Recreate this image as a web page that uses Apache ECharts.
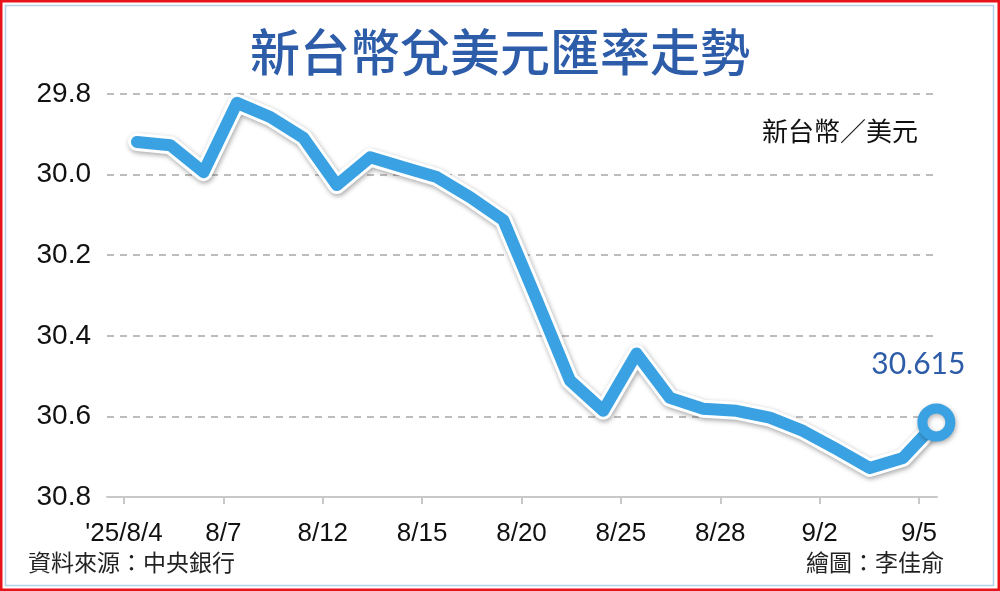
<!DOCTYPE html>
<html>
<head>
<meta charset="utf-8">
<script src="https://cdn.jsdelivr.net/npm/echarts@6/dist/echarts.min.js"></script>
<style>
html,body{margin:0;padding:0;background:#fff;}
#c{width:1000px;height:591px;}
</style>
</head>
<body>
<div id="c"></div>
<script>
// Trading days (index positions) and TWD per USD closing values
const dates = ['8/4','8/5','8/6','8/7','8/8','8/11','8/12','8/13','8/14','8/15',
  '8/18','8/19','8/20','8/21','8/22','8/25','8/26','8/27','8/28','8/29',
  '9/1','9/2','9/3','9/4','9/5'];
const rates = [29.919, 29.927, 29.994, 29.822, 29.857, 29.909, 30.026, 29.957, 29.982, 30.006,
  30.056, 30.113, 30.31, 30.511, 30.586, 30.444, 30.554, 30.581, 30.586, 30.603,
  30.636, 30.681, 30.728, 30.703, 30.615];
const tickLabels = ["'25/8/4", '8/7', '8/12', '8/15', '8/20', '8/25', '8/28', '9/2', '9/5'];
const yTicks = [29.8, 30.0, 30.2, 30.4, 30.6, 30.8];
const lastLabel = '30.615';

const pts = rates.map((v, i) => [i, v]);
const lastIdx = rates.length - 1;

const chart = echarts.init(document.getElementById('c'), null, {renderer: 'canvas'});
const latin = 'Liberation Sans, Arial, sans-serif';
const cjk = '"Noto Sans CJK TC", "Noto Sans CJK SC", sans-serif';

chart.setOption({
  animation: false,
  backgroundColor: '#ffffff',
  title: {
    text: '新台幣兌美元匯率走勢',
    left: 'center',
    top: 22,
    textStyle: {fontSize: 50, fontWeight: 500, color: '#2d5ca8', fontFamily: cjk}
  },
  grid: [
    {left: 107, right: 63, top: 94, bottom: 94},
    {left: 124, right: 81, top: 94, bottom: 94}
  ],
  xAxis: [
    {
      type: 'value', gridIndex: 0, min: -0.9, max: 24.02,
      axisLine: {show: true, onZero: false, lineStyle: {color: '#c8c8c8', width: 2}},
      axisTick: {show: false}, axisLabel: {show: false}, splitLine: {show: false}
    },
    {
      type: 'category', gridIndex: 1, boundaryGap: false, data: tickLabels,
      axisLine: {show: false},
      axisTick: {show: true, length: 7, lineStyle: {color: '#c8c8c8', width: 2}},
      axisLabel: {show: true, interval: 0, margin: 24, fontSize: 26, color: '#111', fontFamily: latin},
      splitLine: {show: false}
    }
  ],
  yAxis: [
    {
      type: 'value', gridIndex: 0, inverse: true, min: 29.8, max: 30.8, interval: 0.2,
      axisLine: {show: false}, axisTick: {show: false},
      axisLabel: {margin: 16, fontSize: 28, color: '#111', fontFamily: latin,
        formatter: v => v.toFixed(1)},
      splitLine: {show: true, lineStyle: {color: '#a8a8a8', width: 1.5, type: [7, 6]}}
    },
    {type: 'value', gridIndex: 1, show: false, min: 0, max: 1}
  ],
  series: [
    {
      type: 'line', xAxisIndex: 0, yAxisIndex: 0, data: pts, silent: true,
      symbol: 'none', z: 2,
      lineStyle: {color: '#ffffff', width: 18, cap: 'round', join: 'round',
        shadowColor: 'rgba(0,0,0,0.35)', shadowBlur: 5, shadowOffsetX: 1, shadowOffsetY: 2}
    },
    {
      type: 'line', xAxisIndex: 0, yAxisIndex: 0, data: pts, z: 3,
      showSymbol: true,
      symbol: 'circle',
      symbolSize: (v, p) => p.dataIndex === lastIdx ? 28 : 0,
      itemStyle: {color: '#ffffff', borderColor: '#3aa2e2', borderWidth: 10,
        shadowColor: 'rgba(0,0,0,0.3)', shadowBlur: 5, shadowOffsetX: 1, shadowOffsetY: 2},
      lineStyle: {color: '#3aa2e2', width: 12, cap: 'round', join: 'round'},
      label: {
        show: true,
        formatter: p => p.dataIndex === lastIdx ? lastLabel : '',
        position: 'top', distance: 24, offset: [-18, 0],
        fontSize: 30, color: '#2d5ca8', fontFamily: 'Lato, Liberation Sans, sans-serif'
      }
    }
  ],
  graphic: [
    {type: 'rect', shape: {x: 1.25, y: 1.25, width: 997.5, height: 588.5},
      style: {fill: null, stroke: '#e8141c', lineWidth: 2.5}, z: 100},
    {type: 'rect', shape: {x: 5.5, y: 5.5, width: 988, height: 580},
      style: {fill: null, stroke: '#b3d2ec', lineWidth: 1.5}, z: 100},
    {type: 'text', left: 762, top: 118,
      style: {text: '新台幣／美元', fontSize: 26, fill: '#111', fontFamily: cjk}},
    {type: 'text', left: 28, top: 551,
      style: {text: '資料來源：中央銀行', fontSize: 23, fill: '#222', fontFamily: cjk}},
    {type: 'text', right: 56, top: 551,
      style: {text: '繪圖：李佳俞', fontSize: 23, fill: '#222', fontFamily: cjk}}
  ]
});
</script>
</body>
</html>
